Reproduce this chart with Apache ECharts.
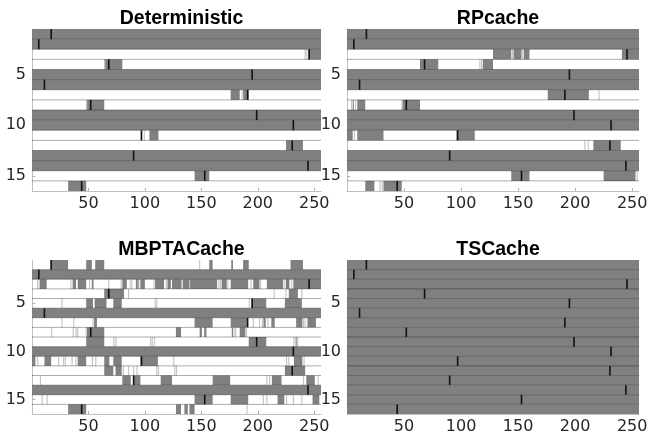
<!DOCTYPE html>
<html>
<head>
<meta charset="utf-8">
<script src="https://cdn.jsdelivr.net/npm/echarts@6/dist/echarts.min.js"></script>
<style>
  html, body { margin: 0; padding: 0; background: #fff; }
  #chart { width: 654px; height: 435px; }
</style>
</head>
<body>
<div id="chart"></div>
<script>
// titles of the four panels
const panelTitles = ["Deterministic", "RPcache", "MBPTACache", "TSCache"];
const xTicks = [50, 100, 150, 200, 250];
const yTicks = [5, 10, 15];
const rowIds = [1, 2, 3, 4, 5, 6, 7, 8, 9, 10, 11, 12, 13, 14, 15, 16];

// accessed position per row (black mark), same in every panel
const markerX = [17, 6, 245.5, 68, 195, 11, 191, 52, 199, 231.5, 97, 230.5, 90, 244.5, 153, 44];

// gray segments: [row, from, to]
const detGray = [
  [1, 0, 256], [2, 0, 256], [3, 245, 256], [4, 64, 80], [5, 0, 256], [6, 0, 256],
  [7, 176, 184], [7, 187, 192], [8, 48, 64], [9, 0, 256], [10, 0, 256],
  [11, 104, 112], [12, 225, 240], [13, 0, 256], [14, 0, 256], [15, 144, 157], [16, 32, 48]
];
// thin light lines: [row, x]
const detLight = [[3, 242], [3, 243.5], [7, 186], [11, 96.5], [11, 99.5], [4, 64.5], [8, 48.5]];

const rpGray = [
  [1, 0, 256], [2, 0, 256], [3, 128, 144], [3, 146, 153], [3, 155, 160], [3, 241, 256],
  [4, 64, 80], [4, 119, 128], [5, 0, 256], [6, 0, 256], [7, 176, 212],
  [8, 5, 6], [8, 9, 16], [8, 48, 64], [9, 0, 256], [10, 0, 256],
  [11, 0, 5], [11, 9, 32], [11, 96, 112], [12, 216, 240], [13, 0, 256], [14, 0, 256],
  [15, 144, 160], [15, 225, 253], [16, 16, 24], [16, 32, 48]
];
const rpLight = [
  [3, 145], [3, 154], [4, 116.5], [4, 118], [7, 221], [8, 4], [8, 7.5], [8, 48.5],
  [11, 6.5], [12, 208.5], [12, 211.5], [15, 254.5], [16, 29], [16, 31]
];

const mbGray = [
  [1, 17, 32], [1, 48, 53], [1, 56, 64], [1, 157, 160], [1, 176.5, 178], [1, 187, 192], [1, 229, 240],
  [2, 0, 256],
  [3, 7, 13], [3, 36, 39], [3, 40.5, 48], [3, 53, 54.5], [3, 80, 84], [3, 92, 95], [3, 96, 100],
  [3, 109, 117], [3, 120, 123], [3, 124, 132.5], [3, 133.5, 139.5], [3, 140, 164], [3, 168, 172.5],
  [3, 176, 191.5], [3, 196, 201.5], [3, 208, 222.5], [3, 225, 228], [3, 231.5, 256],
  [4, 64, 81.5], [4, 227.5, 235.5],
  [5, 48, 54], [5, 55.5, 66], [5, 72, 79.5], [5, 194.5, 207.5], [5, 224, 239],
  [6, 0, 256],
  [7, 55, 57.5], [7, 144, 160], [7, 176, 190.5], [7, 205, 207], [7, 212, 215], [7, 234, 239.5], [7, 244, 251.5],
  [8, 48.5, 64], [8, 127.5, 132], [8, 148.5, 150.5], [8, 152.5, 155], [8, 177, 178], [8, 184, 189],
  [9, 48, 64], [9, 192, 207.5], [9, 233.5, 234.5],
  [10, 0, 256],
  [11, 0, 3], [11, 11, 17], [11, 40.5, 48], [11, 64, 68.5], [11, 72, 79.5], [11, 96, 111.5], [11, 232, 239.5],
  [12, 64, 72], [12, 74, 79.5], [12, 224, 242],
  [13, 80, 87.5], [13, 90, 96], [13, 114, 124], [13, 160, 175.5], [13, 212.5, 221], [13, 243, 250.5],
  [14, 0, 256],
  [15, 144, 160], [15, 176, 191.5], [15, 217.5, 223.5], [15, 248.5, 254.5],
  [16, 32, 48], [16, 127.5, 132], [16, 135, 138], [16, 139.5, 144]
];
const mbLight = [
  [1, 16.5], [1, 148.5],
  [3, 5], [3, 6.5], [3, 34.5], [3, 51], [3, 68], [3, 79], [3, 87], [3, 88.5], [3, 94], [3, 108],
  [3, 119], [3, 165.5], [3, 167], [3, 173.5], [3, 194], [3, 202.5], [3, 224], [3, 230],
  [4, 85.5], [4, 214.5], [4, 225], [4, 239],
  [5, 26.5], [5, 109], [5, 110.5], [5, 192.5],
  [7, 26.5], [7, 37], [7, 54], [7, 196], [7, 201.5], [7, 204], [7, 209], [7, 240.5], [7, 242],
  [8, 17.5], [8, 36.5], [8, 39], [8, 40.5], [8, 48], [8, 154.5], [8, 179], [8, 180.5], [8, 190],
  [9, 72.5], [9, 74.5], [9, 105], [9, 106.5], [9, 108.5], [9, 232], [9, 235.5],
  [11, 5], [11, 23.5], [11, 28], [11, 29.5], [11, 35.5], [11, 39], [11, 53.5], [11, 56.5],
  [11, 125.5], [11, 225.5], [11, 227.5], [11, 241],
  [12, 81], [12, 85.5], [12, 90], [12, 93], [12, 110.5], [12, 112], [12, 126.5], [12, 128],
  [13, 7.5], [13, 208], [13, 210.5], [13, 240.5], [13, 253.5],
  [15, 9], [15, 13.5], [15, 205], [15, 208], [15, 225.5], [15, 231.5], [15, 239],
  [16, 190.5]
];

const tsGray = rowIds.map(r => [r, 0, 256]);
const tsLight = [];

const grayList = [detGray, rpGray, mbGray, tsGray];
const lightList = [detLight, rpLight, mbLight, tsLight];

// panel boxes
const grids = [
  { left: 32, top: 29, width: 289, height: 162 },
  { left: 347, top: 29, width: 292, height: 162 },
  { left: 32, top: 260, width: 289, height: 154 },
  { left: 347, top: 260, width: 292, height: 154 },
];

const chart = echarts.init(document.getElementById("chart"), null, { renderer: "canvas" });

function segItem(params, api) {
  const r = api.value(0);
  const p0 = api.coord([api.value(1), r - 0.5]);
  const p1 = api.coord([api.value(2), r + 0.5]);
  return {
    type: "rect",
    shape: { x: p0[0], y: p0[1], width: p1[0] - p0[0], height: p1[1] - p0[1] },
    style: { fill: "#808080" },
  };
}

function lightItem(params, api) {
  const r = api.value(0), x = api.value(1);
  const p0 = api.coord([x - 0.5, r - 0.5]);
  const p1 = api.coord([x + 0.5, r + 0.5]);
  return {
    type: "rect",
    shape: { x: p0[0], y: p0[1], width: Math.max(1, p1[0] - p0[0]), height: p1[1] - p0[1] },
    style: { fill: "#c4c4c4" },
  };
}

function markItem(params, api) {
  const r = api.value(0), x = api.value(1);
  const p0 = api.coord([x, r - 0.5]);
  const p1 = api.coord([x, r + 0.5]);
  return {
    type: "line",
    shape: { x1: p0[0], y1: p0[1], x2: p1[0], y2: p1[1] },
    style: { stroke: "#111", lineWidth: 1.6 },
  };
}

function sepItem(params, api) {
  const r = api.value(0);
  const p0 = api.coord([0, r + 0.5]);
  const p1 = api.coord([256, r + 0.5]);
  return {
    type: "line",
    shape: { x1: p0[0], y1: p0[1], x2: p1[0], y2: p1[1] },
    style: { stroke: "rgba(0,0,0,0.33)", lineWidth: 1 },
  };
}

const xAxis = [], yAxis = [], series = [], title = [];
grids.forEach((g, i) => {
  title.push({
    text: panelTitles[i],
    left: g.left + g.width / 2,
    top: i < 2 ? 4 : 235,
    textAlign: "center",
    textStyle: { fontFamily: "Liberation Sans", fontWeight: "bold", fontSize: 19.5, color: "#000" },
  });
  xAxis.push({
    gridIndex: i,
    type: "value",
    min: 0,
    max: 256,
    axisLine: { show: true, lineStyle: { color: "#c0c0c0", width: 1 } },
    axisTick: { show: true, inside: true, length: 3, customValues: xTicks, lineStyle: { color: "#b0b0b0" } },
    axisLabel: {
      customValues: xTicks,
      margin: 5,
      fontFamily: "DejaVu Sans",
      fontSize: 16,
      color: "#262626",
    },
    splitLine: { show: false },
  });
  yAxis.push({
    gridIndex: i,
    type: "value",
    min: 0.5,
    max: 16.5,
    inverse: true,
    axisLine: { show: true, lineStyle: { color: "#c0c0c0", width: 1 } },
    axisTick: { show: true, inside: true, length: 3, customValues: yTicks, lineStyle: { color: "#b0b0b0" } },
    axisLabel: {
      customValues: yTicks,
      margin: 6,
      fontFamily: "DejaVu Sans",
      fontSize: 16,
      color: "#262626",
    },
    splitLine: { show: false },
  });
  series.push({
    type: "custom",
    xAxisIndex: i, yAxisIndex: i,
    renderItem: segItem,
    encode: { x: [1, 2], y: 0 },
    data: grayList[i],
    clip: true,
    silent: true,
    z: 2,
  });
  series.push({
    type: "custom",
    xAxisIndex: i, yAxisIndex: i,
    renderItem: lightItem,
    encode: { x: 1, y: 0 },
    data: lightList[i],
    clip: true,
    silent: true,
    z: 3,
  });
  series.push({
    type: "custom",
    xAxisIndex: i, yAxisIndex: i,
    renderItem: sepItem,
    encode: { y: 0 },
    data: rowIds.slice(0, 15).map(r => [r]),
    silent: true,
    z: 4,
  });
  series.push({
    type: "custom",
    xAxisIndex: i, yAxisIndex: i,
    renderItem: markItem,
    encode: { x: 1, y: 0 },
    data: rowIds.map((r, k) => [r, markerX[k]]),
    clip: true,
    silent: true,
    z: 5,
  });
});

chart.setOption({
  animation: false,
  backgroundColor: "#fff",
  title: title,
  grid: grids,
  xAxis: xAxis,
  yAxis: yAxis,
  series: series,
});
</script>
</body>
</html>
